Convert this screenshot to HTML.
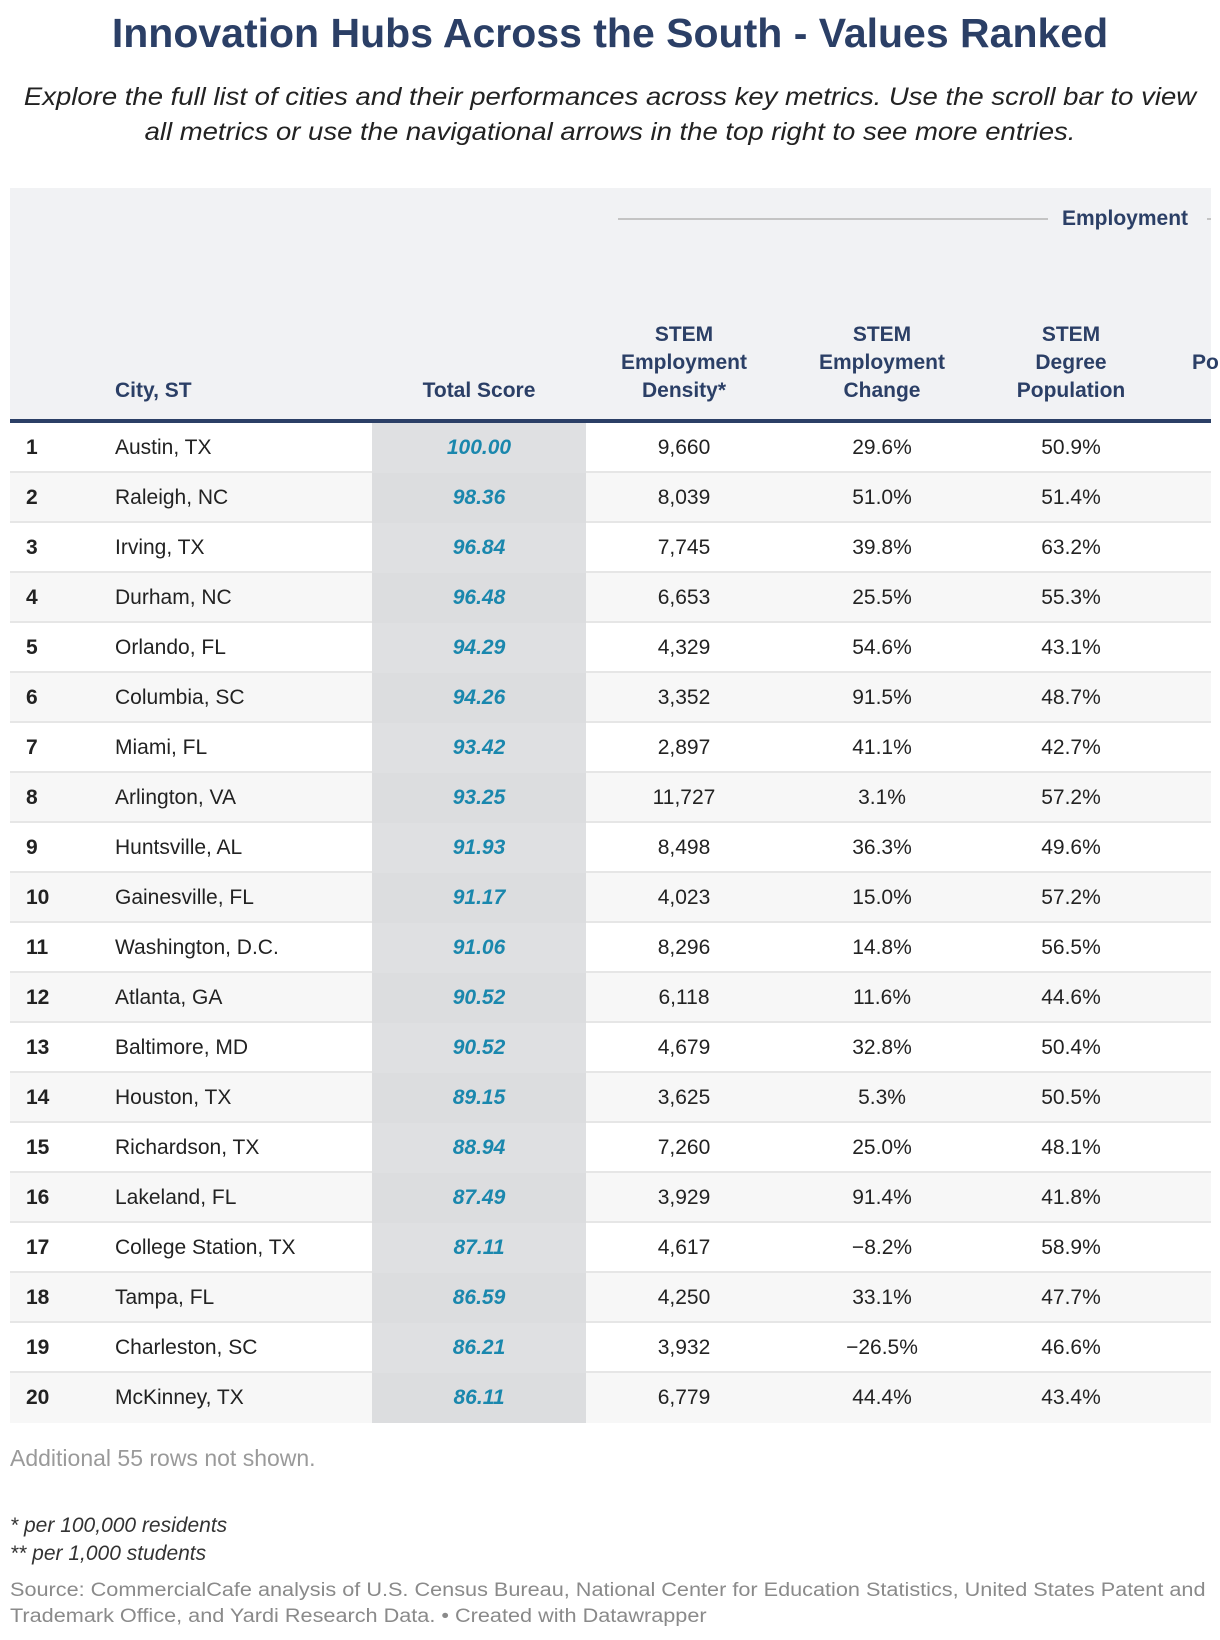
<!DOCTYPE html>
<html><head><meta charset="utf-8"><style>
body{margin:0;width:1220px;height:1640px;background:#fff;font-family:"Liberation Sans",Arial,sans-serif;position:relative;overflow:hidden}
.a{position:absolute;white-space:nowrap}
.hd{color:#2b3f66;font-weight:bold;font-size:21px;text-align:center;line-height:28px}
.c{text-align:center;transform:translateX(-50%)}
</style></head><body>
<div class="a" style="left:0;width:1220px;top:10px;text-align:center;font-size:41px;font-weight:bold;color:#2b3f66">Innovation Hubs Across the South - Values Ranked</div>
<div class="a" style="left:0;width:1220px;top:80px;text-align:center;font-size:25px;font-style:italic;color:#222;line-height:35px;white-space:normal;transform:scaleX(1.1);transform-origin:610px 0">Explore the full list of cities and their performances across key metrics. Use the scroll bar to view<br>all metrics or use the navigational arrows in the top right to see more entries.</div>
<div class="a" style="left:10px;top:188px;width:1201px;height:232px;background:#f1f2f4"></div>
<div class="a" style="left:618px;top:218px;width:430px;height:2px;background:#c4c4c4"></div>
<div class="a hd" style="left:1062px;top:205px">Employment</div>
<div class="a" style="left:1207px;top:218px;width:4px;height:2px;background:#c4c4c4"></div>
<div class="a hd" style="left:115px;top:377px">City, ST</div>
<div class="a hd c" style="left:479px;top:377px">Total Score</div>
<div class="a hd c" style="left:684px;top:321px">STEM<br>Employment<br>Density*</div>
<div class="a hd c" style="left:882px;top:321px">STEM<br>Employment<br>Change</div>
<div class="a hd c" style="left:1071px;top:321px">STEM<br>Degree<br>Population</div>
<div class="a hd" style="left:1192px;top:349px">Po</div>
<div class="a" style="left:10px;top:419px;width:1201px;height:4px;background:#2b3f66"></div>
<div id="rows"></div>
<div class="a" style="left:10px;top:1445px;font-size:23px;color:#9a9a9a">Additional 55 rows not shown.</div>
<div class="a" style="left:10px;top:1512px;font-size:21px;font-style:italic;color:#333;line-height:28px">* per 100,000 residents<br>** per 1,000 students</div>
<div class="a" style="left:10px;top:1578px;font-size:19px;color:#8a8a8a;line-height:26px;transform:scaleX(1.14);transform-origin:0 0">Source: CommercialCafe analysis of U.S. Census Bureau, National Center for Education Statistics, United States Patent and<br>Trademark Office, and Yardi Research Data. • Created with Datawrapper</div>
<script>
const cities=["Austin, TX","Raleigh, NC","Irving, TX","Durham, NC","Orlando, FL","Columbia, SC","Miami, FL","Arlington, VA","Huntsville, AL","Gainesville, FL","Washington, D.C.","Atlanta, GA","Baltimore, MD","Houston, TX","Richardson, TX","Lakeland, FL","College Station, TX","Tampa, FL","Charleston, SC","McKinney, TX"];
const scores=["100.00","98.36","96.84","96.48","94.29","94.26","93.42","93.25","91.93","91.17","91.06","90.52","90.52","89.15","88.94","87.49","87.11","86.59","86.21","86.11"];
const density=["9,660","8,039","7,745","6,653","4,329","3,352","2,897","11,727","8,498","4,023","8,296","6,118","4,679","3,625","7,260","3,929","4,617","4,250","3,932","6,779"];
const change=["29.6%","51.0%","39.8%","25.5%","54.6%","91.5%","41.1%","3.1%","36.3%","15.0%","14.8%","11.6%","32.8%","5.3%","25.0%","91.4%","−8.2%","33.1%","−26.5%","44.4%"];
const degree=["50.9%","51.4%","63.2%","55.3%","43.1%","48.7%","42.7%","57.2%","49.6%","57.2%","56.5%","44.6%","50.4%","50.5%","48.1%","41.8%","58.9%","47.7%","46.6%","43.4%"];
const R=document.getElementById('rows');
function add(html,name,inter){const d=document.createElement('div');d.innerHTML=html;const e=d.firstChild;


R.appendChild(e);return e;}
cities.forEach((c,i)=>{
 const top=423+i*50;const gray=i%2==1;
 add(`<div class="a" style="left:10px;top:${top}px;width:1201px;height:${i==19?50:48}px;background:${gray?'#f7f7f7':'#fff'};border-bottom:${i==19?0:2}px solid #e6e6e6"></div>`,'table-row','false');
 add(`<div class="a" style="left:372px;top:${top}px;width:214px;height:50px;background:${gray?'#dcdddf':'#dfe0e2'}"></div>`,'score-cell-bg','false');
 const y=top+13;
 add(`<div class="a" style="left:26px;top:${y}px;font-size:21px;font-weight:bold;color:#222">${i+1}</div>`,'rank-cell','false');
 add(`<div class="a" style="left:115px;top:${y}px;font-size:21px;color:#222">${c}</div>`,'city-cell','false');
 add(`<div class="a c" style="left:479px;top:${y}px;font-size:21px;font-weight:bold;font-style:italic;color:#1a87ad">${scores[i]}</div>`,'total-score-cell','false');
 add(`<div class="a c" style="left:684px;top:${y}px;font-size:21px;color:#222">${density[i]}</div>`,'stem-density-cell','false');
 add(`<div class="a c" style="left:882px;top:${y}px;font-size:21px;color:#222">${change[i]}</div>`,'stem-change-cell','false');
 add(`<div class="a c" style="left:1071px;top:${y}px;font-size:21px;color:#222">${degree[i]}</div>`,'stem-degree-cell','false');
});
</script>
</body></html>
